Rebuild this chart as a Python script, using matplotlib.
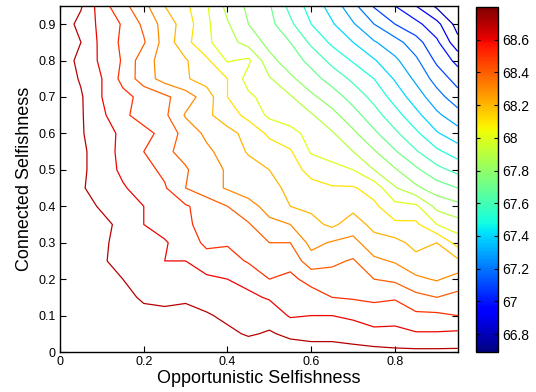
import numpy as np
import matplotlib
matplotlib.use("Agg")
import matplotlib.pyplot as plt
from matplotlib.colors import Normalize
from matplotlib.cm import ScalarMappable

# grid of selfishness values (both axes)
opportunistic = [0.00, 0.05, 0.10, 0.15, 0.20, 0.25, 0.30, 0.35, 0.40, 0.45,
                 0.50, 0.55, 0.60, 0.65, 0.70, 0.75, 0.80, 0.85, 0.90, 0.95]
connected = [0.00, 0.05, 0.10, 0.15, 0.20, 0.25, 0.30, 0.35, 0.40, 0.45,
             0.50, 0.55, 0.60, 0.65, 0.70, 0.75, 0.80, 0.85, 0.90, 0.95]

# one row per connected value, one column per opportunistic value
z_rows = [
    [68.80, 68.80, 68.79, 68.79, 68.78, 68.78, 68.77, 68.77, 68.76, 68.76, 68.75, 68.75, 68.74, 68.74, 68.73, 68.73, 68.72, 68.72, 68.72, 68.72],
    [68.79, 68.80, 68.79, 68.77, 68.75, 68.75, 68.74, 68.74, 68.72, 68.69, 68.71, 68.68, 68.67, 68.67, 68.66, 68.63, 68.63, 68.61, 68.61, 68.62],
    [68.79, 68.79, 68.79, 68.74, 68.72, 68.72, 68.72, 68.71, 68.68, 68.66, 68.66, 68.59, 68.60, 68.60, 68.58, 68.55, 68.56, 68.52, 68.52, 68.50],
    [68.78, 68.76, 68.74, 68.72, 68.69, 68.68, 68.69, 68.66, 68.64, 68.62, 68.59, 68.56, 68.54, 68.50, 68.49, 68.48, 68.49, 68.43, 68.40, 68.43],
    [68.78, 68.75, 68.73, 68.70, 68.69, 68.64, 68.64, 68.62, 68.60, 68.57, 68.50, 68.52, 68.47, 68.44, 68.45, 68.40, 68.38, 68.32, 68.29, 68.34],
    [68.77, 68.74, 68.71, 68.67, 68.64, 68.60, 68.60, 68.54, 68.54, 68.49, 68.45, 68.47, 68.34, 68.38, 68.41, 68.32, 68.29, 68.23, 68.25, 68.22],
    [68.77, 68.74, 68.71, 68.68, 68.65, 68.61, 68.55, 68.48, 68.49, 68.45, 68.40, 68.40, 68.27, 68.31, 68.33, 68.24, 68.23, 68.17, 68.20, 68.06],
    [68.77, 68.75, 68.72, 68.68, 68.60, 68.56, 68.52, 68.46, 68.44, 68.41, 68.32, 68.30, 68.23, 68.18, 68.25, 68.17, 68.12, 68.12, 68.00, 67.94],
    [68.77, 68.73, 68.69, 68.64, 68.60, 68.56, 68.51, 68.46, 68.40, 68.33, 68.27, 68.20, 68.18, 68.15, 68.17, 68.12, 68.03, 68.02, 67.87, 67.83],
    [68.77, 68.71, 68.66, 68.61, 68.56, 68.51, 68.40, 68.34, 68.29, 68.26, 68.24, 68.17, 68.13, 68.11, 68.11, 68.06, 67.91, 67.82, 67.75, 67.70],
    [68.76, 68.72, 68.65, 68.58, 68.53, 68.48, 68.41, 68.34, 68.29, 68.24, 68.20, 68.14, 68.07, 68.03, 68.00, 67.90, 67.81, 67.72, 67.63, 67.57],
    [68.76, 68.72, 68.65, 68.57, 68.50, 68.42, 68.37, 68.32, 68.26, 68.19, 68.15, 68.11, 67.99, 67.96, 67.90, 67.81, 67.71, 67.61, 67.52, 67.45],
    [68.76, 68.71, 68.64, 68.58, 68.53, 68.47, 68.36, 68.28, 68.23, 68.17, 68.08, 68.04, 67.96, 67.91, 67.82, 67.72, 67.62, 67.52, 67.41, 67.34],
    [68.76, 68.71, 68.62, 68.52, 68.46, 68.42, 68.29, 68.22, 68.15, 68.07, 67.98, 67.94, 67.91, 67.83, 67.74, 67.64, 67.54, 67.43, 67.32, 67.24],
    [68.76, 68.71, 68.60, 68.53, 68.47, 68.42, 68.35, 68.25, 68.10, 68.02, 67.96, 67.91, 67.82, 67.75, 67.66, 67.57, 67.46, 67.35, 67.24, 67.14],
    [68.76, 68.69, 68.60, 68.47, 68.35, 68.26, 68.21, 68.16, 68.10, 67.96, 67.91, 67.82, 67.74, 67.66, 67.58, 67.50, 67.39, 67.28, 67.16, 67.06],
    [68.76, 68.67, 68.58, 68.49, 68.34, 68.26, 68.21, 68.12, 67.99, 68.02, 67.83, 67.75, 67.67, 67.57, 67.49, 67.41, 67.32, 67.22, 67.08, 66.97],
    [68.76, 68.70, 68.57, 68.48, 68.41, 68.26, 68.13, 68.02, 67.94, 67.86, 67.77, 67.70, 67.58, 67.48, 67.40, 67.31, 67.24, 67.14, 67.02, 66.83],
    [68.76, 68.67, 68.57, 68.49, 68.38, 68.26, 68.15, 68.02, 67.91, 67.80, 67.73, 67.62, 67.50, 67.41, 67.31, 67.20, 67.10, 67.03, 66.93, 66.76],
    [68.76, 68.71, 68.54, 68.43, 68.33, 68.20, 68.12, 68.01, 67.87, 67.78, 67.71, 67.57, 67.46, 67.36, 67.23, 67.09, 67.00, 66.90, 66.78, 66.70],
]

levels = [66.8, 66.9, 67.0, 67.1, 67.2, 67.3, 67.4, 67.5, 67.6, 67.7,
          67.8, 67.9, 68.0, 68.1, 68.2, 68.3, 68.4, 68.5, 68.6, 68.7]
cbar_ticks = [66.8, 67.0, 67.2, 67.4, 67.6, 67.8, 68.0, 68.2, 68.4, 68.6]
cbar_labels = ["66.8", "67", "67.2", "67.4", "67.6", "67.8", "68", "68.2", "68.4", "68.6"]
x_ticks = [0, 0.2, 0.4, 0.6, 0.8]
x_labels = ["0", "0.2", "0.4", "0.6", "0.8"]
y_ticks = [0, 0.1, 0.2, 0.3, 0.4, 0.5, 0.6, 0.7, 0.8, 0.9]
y_labels = ["0", "0.1", "0.2", "0.3", "0.4", "0.5", "0.6", "0.7", "0.8", "0.9"]

plt.rcParams["font.family"] = ["Liberation Sans", "DejaVu Sans"]

Z = np.array(z_rows)
zmin, zmax = 66.69, 68.80
norm = Normalize(vmin=zmin, vmax=zmax)

fig = plt.figure(figsize=(5.36, 3.92), dpi=100)
ax = fig.add_axes([0.112, 0.102, 0.742, 0.883])
ax.contour(opportunistic, connected, Z, levels=levels, cmap="jet", norm=norm, linewidths=0.9)

ax.set_xlim(0, 0.95)
ax.set_ylim(0, 0.95)
ax.set_xticks(x_ticks)
ax.set_xticklabels(x_labels)
ax.set_yticks(y_ticks)
ax.set_yticklabels(y_labels)
ax.tick_params(direction="in", top=True, right=True, length=4, width=0.8, labelsize=9, pad=3)
for sp in ax.spines.values():
    sp.set_linewidth(1.0)
ax.set_xlabel("Opportunistic Selfishness", fontsize=13, labelpad=1)
ax.set_ylabel("Connected Selfishness", fontsize=13, labelpad=4)

cax = fig.add_axes([0.8875, 0.102, 0.042, 0.880])
sm = ScalarMappable(norm=norm, cmap="jet")
cb = fig.colorbar(sm, cax=cax)
cb.set_ticks(cbar_ticks)
cb.set_ticklabels(cbar_labels)
cax.tick_params(direction="in", left=True, right=True, length=3, width=0.8, labelsize=10, pad=3)
cb.outline.set_linewidth(1.0)

fig.savefig("out.png", dpi=100)
